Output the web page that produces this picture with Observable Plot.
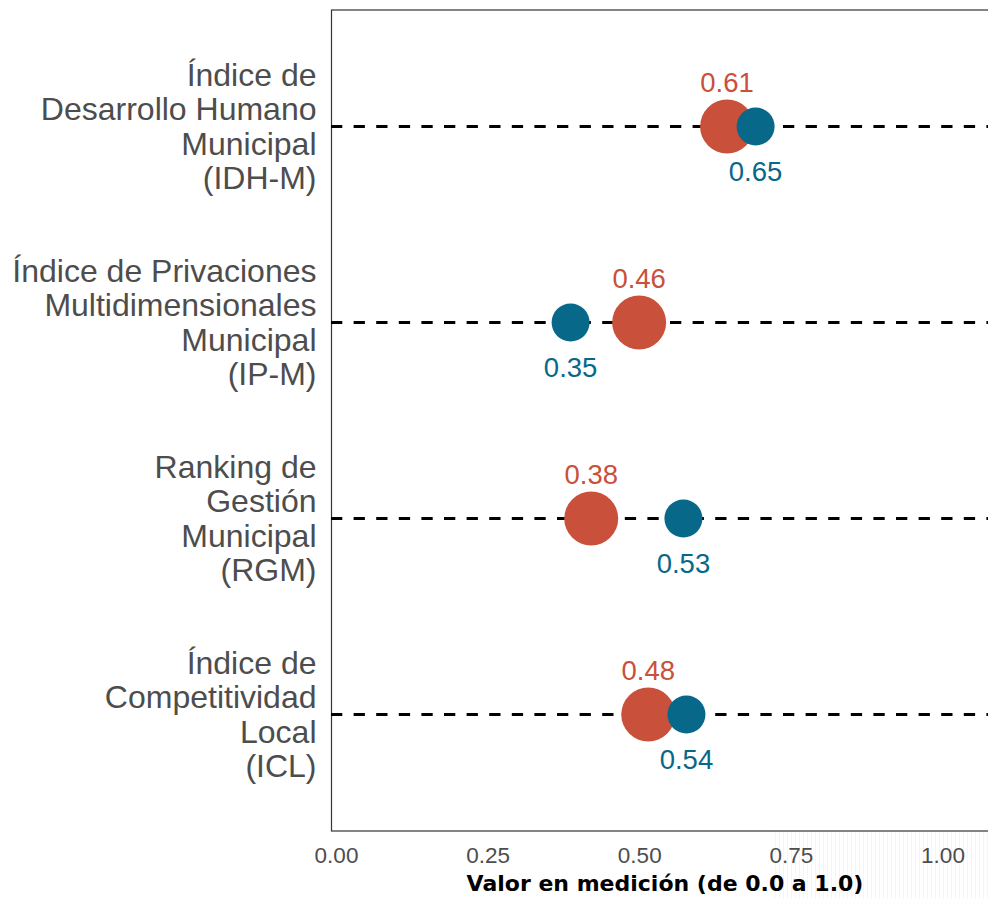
<!DOCTYPE html>
<html>
<head>
<meta charset="utf-8">
<script src="https://cdn.jsdelivr.net/npm/d3@7"></script>
<script src="https://cdn.jsdelivr.net/npm/@observablehq/plot@0.6"></script>
<style>
  html, body { margin: 0; padding: 0; background: white; overflow: hidden; }
  #wrap { position: relative; width: 988px; height: 898px; }
  #deco { position: absolute; left: 775px; top: 831px; width: 213px; height: 67px;
    background: repeating-linear-gradient(90deg, #f5f3ee 0px, #f5f3ee 1.5px, #ffffff 1.5px, #ffffff 4px); opacity: 0.8; }
  #chart { position: absolute; left: 0; top: 0; }
</style>
</head>
<body>
<div id="wrap"><div id="deco"></div><div id="chart"></div></div>
<script>
const categories = ["IDH-M", "IP-M", "RGM", "ICL"];
const categoryLabels = [
  "Índice de\nDesarrollo Humano\nMunicipal\n(IDH-M)",
  "Índice de Privaciones\nMultidimensionales\nMunicipal\n(IP-M)",
  "Ranking de\nGestión\nMunicipal\n(RGM)",
  "Índice de\nCompetitividad\nLocal\n(ICL)"
];
const redValues = [0.644, 0.499, 0.420, 0.514];
const blueValues = [0.691, 0.386, 0.572, 0.577];
const redLabels = ["0.61", "0.46", "0.38", "0.48"];
const blueLabels = ["0.65", "0.35", "0.53", "0.54"];
const xTicks = [0, 0.25, 0.5, 0.75, 1];
const xTickLabels = ["0.00", "0.25", "0.50", "0.75", "1.00"];
const xTitle = "Valor en medición (de 0.0 a 1.0)";

const RED = "#C9503A";
const BLUE = "#07688A";
const GREY = "#4D4D4D";

const red = categories.map((c, i) => ({cat: c, v: redValues[i], label: redLabels[i]}));
const blue = categories.map((c, i) => ({cat: c, v: blueValues[i], label: blueLabels[i]}));
const cats = categories.map((c, i) => ({cat: c, label: categoryLabels[i]}));
const ticks = xTicks.map((t, i) => ({t, label: xTickLabels[i]}));

const chart = Plot.plot({
  width: 988,
  height: 898,
  marginLeft: 331,
  marginRight: -10,
  marginTop: 9.5,
  marginBottom: 67.5,
  x: {domain: [0, 1], range: [336, 942.5], axis: null},
  y: {type: "point", domain: categories, padding: 0.593, axis: null},
  style: {fontFamily: "'Liberation Sans', Arial, Helvetica, sans-serif", background: "transparent", overflow: "visible"},
  marks: [
    Plot.frame({stroke: "#333", strokeWidth: 1.2}),
    Plot.ruleY(categories, {y: d => d, stroke: "black", strokeWidth: 2.8, strokeDasharray: "11.3,11.3"}),
    Plot.dot(red, {x: "v", y: "cat", r: 27, fill: RED, stroke: null}),
    Plot.dot(blue, {x: "v", y: "cat", r: 19, fill: BLUE, stroke: null}),
    Plot.text(red, {x: "v", y: "cat", text: "label", fill: RED, fontSize: 27.5, lineAnchor: "bottom", dy: -35}),
    Plot.text(blue, {x: "v", y: "cat", text: "label", fill: BLUE, fontSize: 27.5, lineAnchor: "top", dy: 34.5}),
    Plot.text(cats, {y: "cat", text: "label", frameAnchor: "left", textAnchor: "end", dx: -15, fontSize: 32, lineHeight: 1.07, fill: GREY, lineAnchor: "middle"}),
    Plot.text(ticks, {x: "t", text: "label", frameAnchor: "bottom", lineAnchor: "top", dy: 16.5, fontSize: 22.5, fill: GREY}),
    Plot.text([xTitle], {text: d => d, frameAnchor: "bottom", lineAnchor: "bottom", dy: 59.5, fontSize: 22, fontWeight: "bold", fontFamily: "'DejaVu Sans', sans-serif", fill: "black"})
  ]
});
document.getElementById("chart").appendChild(chart);
</script>
</body>
</html>
